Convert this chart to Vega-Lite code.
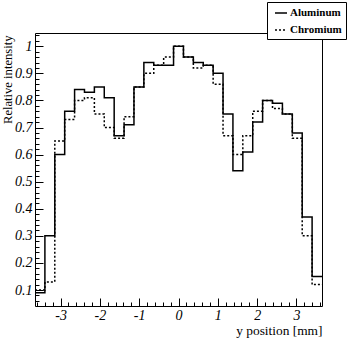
{
  "$schema": "https://vega.github.io/schema/vega-lite/v6.json",
  "width": 287,
  "height": 273,
  "autosize": "none",
  "padding": {"left": 35, "top": 33, "right": 35, "bottom": 34},
  "background": "white",
  "config": {"view": {"stroke": "black", "strokeWidth": 1}, "font": "Liberation Serif, Times New Roman, serif"},
  "data": {"values": [
    {"pos": -3.65, "series": "Aluminum", "value": 0.09},
    {"pos": -3.3983, "series": "Aluminum", "value": 0.30},
    {"pos": -3.1466, "series": "Aluminum", "value": 0.60},
    {"pos": -2.8948, "series": "Aluminum", "value": 0.76},
    {"pos": -2.6431, "series": "Aluminum", "value": 0.84},
    {"pos": -2.3914, "series": "Aluminum", "value": 0.83},
    {"pos": -2.1397, "series": "Aluminum", "value": 0.85},
    {"pos": -1.8879, "series": "Aluminum", "value": 0.81},
    {"pos": -1.6362, "series": "Aluminum", "value": 0.67},
    {"pos": -1.3845, "series": "Aluminum", "value": 0.71},
    {"pos": -1.1328, "series": "Aluminum", "value": 0.85},
    {"pos": -0.8810, "series": "Aluminum", "value": 0.94},
    {"pos": -0.6293, "series": "Aluminum", "value": 0.93},
    {"pos": -0.3776, "series": "Aluminum", "value": 0.93},
    {"pos": -0.1259, "series": "Aluminum", "value": 1.00},
    {"pos": 0.1259, "series": "Aluminum", "value": 0.96},
    {"pos": 0.3776, "series": "Aluminum", "value": 0.94},
    {"pos": 0.6293, "series": "Aluminum", "value": 0.93},
    {"pos": 0.8810, "series": "Aluminum", "value": 0.90},
    {"pos": 1.1328, "series": "Aluminum", "value": 0.75},
    {"pos": 1.3845, "series": "Aluminum", "value": 0.54},
    {"pos": 1.6362, "series": "Aluminum", "value": 0.61},
    {"pos": 1.8879, "series": "Aluminum", "value": 0.72},
    {"pos": 2.1397, "series": "Aluminum", "value": 0.80},
    {"pos": 2.3914, "series": "Aluminum", "value": 0.79},
    {"pos": 2.6431, "series": "Aluminum", "value": 0.75},
    {"pos": 2.8948, "series": "Aluminum", "value": 0.68},
    {"pos": 3.1466, "series": "Aluminum", "value": 0.37},
    {"pos": 3.3983, "series": "Aluminum", "value": 0.15},
    {"pos": 3.65, "series": "Aluminum", "value": 0.15},
    {"pos": -3.65, "series": "Chromium", "value": 0.10},
    {"pos": -3.3983, "series": "Chromium", "value": 0.13},
    {"pos": -3.1466, "series": "Chromium", "value": 0.65},
    {"pos": -2.8948, "series": "Chromium", "value": 0.73},
    {"pos": -2.6431, "series": "Chromium", "value": 0.80},
    {"pos": -2.3914, "series": "Chromium", "value": 0.81},
    {"pos": -2.1397, "series": "Chromium", "value": 0.75},
    {"pos": -1.8879, "series": "Chromium", "value": 0.70},
    {"pos": -1.6362, "series": "Chromium", "value": 0.66},
    {"pos": -1.3845, "series": "Chromium", "value": 0.74},
    {"pos": -1.1328, "series": "Chromium", "value": 0.85},
    {"pos": -0.8810, "series": "Chromium", "value": 0.90},
    {"pos": -0.6293, "series": "Chromium", "value": 0.93},
    {"pos": -0.3776, "series": "Chromium", "value": 0.96},
    {"pos": -0.1259, "series": "Chromium", "value": 1.00},
    {"pos": 0.1259, "series": "Chromium", "value": 0.96},
    {"pos": 0.3776, "series": "Chromium", "value": 0.92},
    {"pos": 0.6293, "series": "Chromium", "value": 0.93},
    {"pos": 0.8810, "series": "Chromium", "value": 0.86},
    {"pos": 1.1328, "series": "Chromium", "value": 0.67},
    {"pos": 1.3845, "series": "Chromium", "value": 0.60},
    {"pos": 1.6362, "series": "Chromium", "value": 0.67},
    {"pos": 1.8879, "series": "Chromium", "value": 0.76},
    {"pos": 2.1397, "series": "Chromium", "value": 0.80},
    {"pos": 2.3914, "series": "Chromium", "value": 0.77},
    {"pos": 2.6431, "series": "Chromium", "value": 0.75},
    {"pos": 2.8948, "series": "Chromium", "value": 0.66},
    {"pos": 3.1466, "series": "Chromium", "value": 0.30},
    {"pos": 3.3983, "series": "Chromium", "value": 0.12},
    {"pos": 3.65, "series": "Chromium", "value": 0.12}
  ]},
  "layer": [
    {
      "mark": {"type": "line", "interpolate": "step-after", "strokeWidth": 1.5},
      "encoding": {
        "x": {"field": "pos", "type": "quantitative",
          "scale": {"domain": [-3.65, 3.65], "nice": false, "zero": false},
          "axis": {"orient": "bottom", "values": [-3, -2, -1, 0, 1, 2, 3], "labelExpr": "'' + datum.value",
            "domain": false, "grid": false, "tickSize": -8, "tickColor": "black", "tickWidth": 1,
            "labelFont": "Liberation Serif, Times New Roman, serif", "labelFontStyle": "italic", "labelFontSize": 14, "labelColor": "black", "labelPadding": 10,
            "title": "y position [mm]", "titleFont": "Liberation Serif, Times New Roman, serif", "titleFontWeight": "normal", "titleFontSize": 13.4, "titleColor": "black",
            "titleX": 287, "titleY": 28.5, "titleAlign": "right", "titleBaseline": "alphabetic", "zindex": 1}},
        "y": {"field": "value", "type": "quantitative",
          "scale": {"domain": [0.041, 1.049], "nice": false, "zero": false},
          "axis": {"orient": "left", "values": [0.1, 0.2, 0.3, 0.4, 0.5, 0.6, 0.7, 0.8, 0.9, 1], "labelExpr": "'' + datum.value",
            "domain": false, "grid": false, "tickSize": -8, "tickColor": "black", "tickWidth": 1,
            "labelFont": "Liberation Serif, Times New Roman, serif", "labelFontStyle": "italic", "labelFontSize": 14, "labelColor": "black", "labelPadding": 11,
            "title": "Relative intensity", "titleFont": "Liberation Serif, Times New Roman, serif", "titleFontWeight": "normal", "titleFontSize": 12.6, "titleColor": "black",
            "titleAngle": -90, "titleX": -23.5, "titleY": 2, "titleAlign": "right", "titleBaseline": "alphabetic", "zindex": 1}},
        "color": {"field": "series", "type": "nominal",
          "scale": {"domain": ["Aluminum", "Chromium"], "range": ["black", "black"]},
          "legend": {"orient": "none", "legendX": 232, "legendY": -31, "title": null, "padding": 4,
            "strokeColor": "black", "fillColor": "white", "symbolType": "stroke", "symbolSize": 144,
            "symbolStrokeWidth": 1.5, "symbolOffset": 3, "labelOffset": 2, "rowPadding": 5,
            "labelFont": "Liberation Serif, Times New Roman, serif", "labelFontWeight": "bold", "labelFontSize": 11, "labelColor": "black"}},
        "strokeDash": {"field": "series", "type": "nominal",
          "scale": {"domain": ["Aluminum", "Chromium"], "range": [[1, 0], [2, 2]]},
          "legend": {"orient": "none", "legendX": 232, "legendY": -31, "title": null, "padding": 4,
            "strokeColor": "black", "fillColor": "white", "symbolType": "stroke", "symbolSize": 144,
            "symbolStrokeWidth": 1.5, "symbolOffset": 3, "labelOffset": 2, "rowPadding": 5,
            "labelFont": "Liberation Serif, Times New Roman, serif", "labelFontWeight": "bold", "labelFontSize": 11, "labelColor": "black"}}
      }
    },
    {
      "mark": {"type": "line", "opacity": 0},
      "encoding": {
        "x": {"field": "pos", "type": "quantitative",
          "scale": {"domain": [-3.65, 3.65], "nice": false, "zero": false},
          "axis": {"orient": "bottom", "values": [-3.6, -3.4, -3.2, -2.8, -2.6, -2.4, -2.2, -1.8, -1.6, -1.4, -1.2, -0.8, -0.6, -0.4, -0.2, 0.2, 0.4, 0.6, 0.8, 1.2, 1.4, 1.6, 1.8, 2.2, 2.4, 2.6, 2.8, 3.2, 3.4, 3.6],
            "labels": false, "domain": false, "grid": false, "title": null, "tickSize": -4, "tickColor": "black", "tickWidth": 1, "zindex": 1}},
        "y": {"field": "value", "type": "quantitative",
          "scale": {"domain": [0.041, 1.049], "nice": false, "zero": false},
          "axis": {"orient": "left", "values": [0.06, 0.08, 0.12, 0.14, 0.16, 0.18, 0.22, 0.24, 0.26, 0.28, 0.32, 0.34, 0.36, 0.38, 0.42, 0.44, 0.46, 0.48, 0.52, 0.54, 0.56, 0.58, 0.62, 0.64, 0.66, 0.68, 0.72, 0.74, 0.76, 0.78, 0.82, 0.84, 0.86, 0.88, 0.92, 0.94, 0.96, 0.98, 1.02, 1.04],
            "labels": false, "domain": false, "grid": false, "title": null, "tickSize": -4, "tickColor": "black", "tickWidth": 1, "zindex": 1}},
        "detail": {"field": "series", "type": "nominal"}
      }
    }
  ],
  "resolve": {"axis": {"x": "independent", "y": "independent"}}
}
